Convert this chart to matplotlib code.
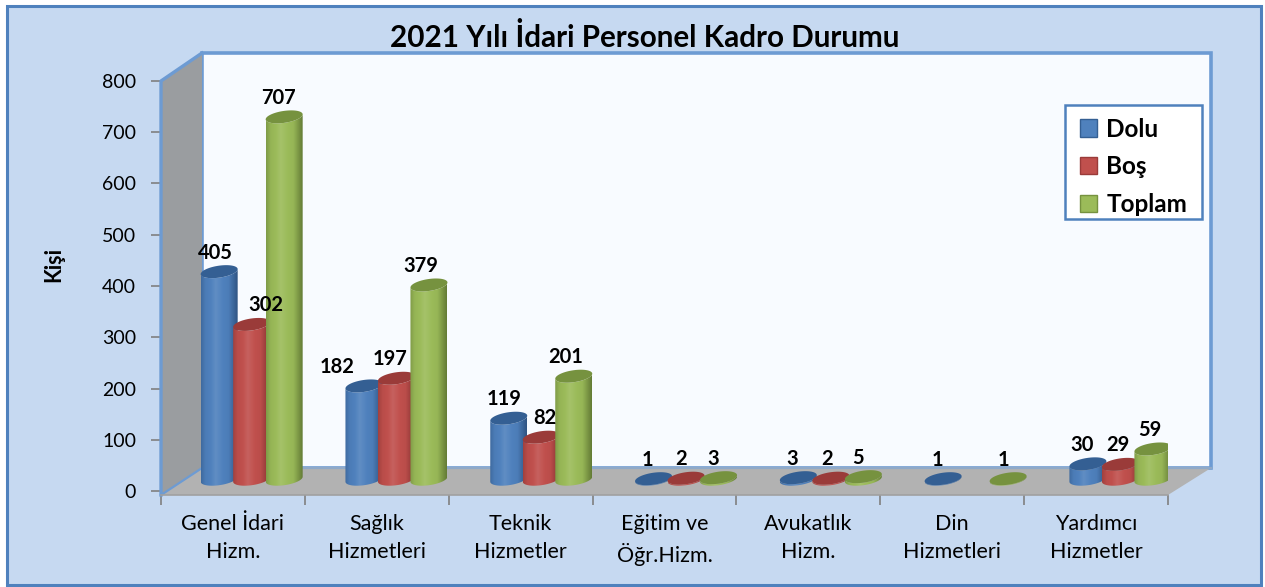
import matplotlib
matplotlib.use("Agg")
import matplotlib.pyplot as plt
import numpy as np
from matplotlib.patches import Patch, PathPatch, Polygon, Rectangle
from matplotlib.path import Path

plt.rcParams["font.family"] = ["Lato", "DejaVu Sans"]

categories = ["Genel İdari\nHizm.", "Sağlık\nHizmetleri", "Teknik\nHizmetler",
              "Eğitim ve\nÖğr.Hizm.", "Avukatlık\nHizm.", "Din\nHizmetleri",
              "Yardımcı\nHizmetler"]
dolu = [405, 182, 119, 1, 3, 1, 30]
bos = [302, 197, 82, 2, 2, 0, 29]
toplam = [707, 379, 201, 3, 5, 1, 59]
series_names = ["Dolu", "Boş", "Toplam"]
y_ticks = [0, 100, 200, 300, 400, 500, 600, 700, 800]

W, H = 1265, 587
LEFT, RIGHT = 161, 1168
BOTTOM, TOP = 495, 81
PX_X = (RIGHT - LEFT) / 7
PX_Y = (491 - TOP) / 800

colors = ["#4F81BD", "#C0504D", "#9BBB59"]
dark = ["#345F93", "#9A3B39", "#76923F"]
edge = ["#2C4F7C", "#7E2F2D", "#5E7532"]
BLUE = "#4F81BD"
LINE = "#6D9BD3"


def px(v):
    return v / PX_X


def py(v):
    return v / PX_Y


def shaded(base, shadow):
    # horizontal shading of a cylinder, dark to the right
    b = np.array(matplotlib.colors.to_rgb(base))
    s = np.array(matplotlib.colors.to_rgb(shadow))
    t = np.linspace(0, 1, 60)
    k = np.interp(t, [0, 0.12, 0.4, 0.75, 1], [0.45, 0.1, -0.1, 0.08, 0.9])
    rows = [b + (s - b) * v if v > 0 else b + (1 - b) * (-v) for v in k]
    return np.clip(np.array([rows]), 0, 1)


def cylinder(ax, cx, value, i, z):
    a, b, tilt = px(18.5), py(6), py(2.5)
    base = 23
    top = base + value
    t = np.linspace(0, 2 * np.pi, 80)
    ex = cx + a * np.cos(t)
    ey = b * np.sin(t) + tilt * np.cos(t)

    low = np.linspace(np.pi, 2 * np.pi, 40)
    side = np.concatenate([
        np.c_[cx + a * np.cos(low), base + b * np.sin(low) + tilt * np.cos(low)],
        np.c_[cx + a * np.cos(low[::-1]), top + b * np.sin(low[::-1]) + tilt * np.cos(low[::-1])],
    ])
    path = Path(np.r_[side, side[:1]], closed=True)
    patch = PathPatch(path, fc="none", ec="none", zorder=z, transform=ax.transData)
    ax.add_patch(patch)
    im = ax.imshow(shaded(colors[i], edge[i]), extent=(cx - a, cx + a, base - py(9), top + py(9)),
                   aspect="auto", zorder=z, interpolation="bilinear")
    im.set_clip_path(patch)
    ax.fill(ex, top + ey, fc=dark[i], ec="none", zorder=z + 0.1)


series = [dolu, bos, toplam]
label_shift = [
    [-4, -27, -5, -6, -6, -6, -6],
    [14, -6, 4, -5, -4, 0, -3],
    [-6, -8, -8, -5, -5, -5, -3],
]

fig = plt.figure(figsize=(W / 100, H / 100), dpi=100, facecolor="white")
fig.add_artist(Rectangle((7 / W, 1 - 585 / H), (1261 - 7) / W, (585 - 6) / H, transform=fig.transFigure,
                         fc="#C6D9F1", ec=BLUE, lw=2.2, zorder=-5))

ax = fig.add_axes([LEFT / W, 1 - BOTTOM / H, (RIGHT - LEFT) / W, (BOTTOM - TOP) / H])
ax.patch.set_alpha(0)
ax.set_xlim(0, 7)
ax.set_ylim(-py(4), 800)
for s in ax.spines.values():
    s.set_visible(False)

depth_x, depth_y = px(41), py(27)
y0 = -py(4)
wall_top = 800 + depth_y + py(1)
# back wall, left wall, floor
ax.add_patch(Rectangle((depth_x, y0 + depth_y), 7 + px(2), wall_top - y0 - depth_y, fc="#F8FBFF", ec=LINE, lw=2.6,
                       clip_on=False, zorder=1))
ax.add_patch(Polygon([(0, 800), (depth_x, wall_top), (depth_x, y0 + depth_y), (0, y0)], fc="#9A9DA0", ec="none",
                     clip_on=False, zorder=2))
ax.plot([0, 0, depth_x], [y0, 800, wall_top], c=LINE, lw=2.4, clip_on=False, zorder=2.5)
ax.add_patch(Polygon([(0, y0), (depth_x, y0 + depth_y), (7 + depth_x + px(2), y0 + depth_y), (7, y0)], fc="#B2B2B2",
                     ec="none", clip_on=False, zorder=3))
ax.plot([0, depth_x], [y0, y0 + depth_y], c=LINE, lw=1.6, clip_on=False, zorder=3.1)
ax.plot([depth_x, 7 + depth_x + px(2)], [y0 + depth_y] * 2, c="#8FA9C8", lw=1.6, clip_on=False, zorder=3.1)
ax.plot([0, 7], [y0, y0], c="#A0A0A0", lw=1.2, clip_on=False, zorder=3.1)

for g in range(len(categories)):
    center = (g + 0.5) * 1.0065 + 0.127
    for i, values in enumerate(series):
        v = values[g]
        x = center + (i - 1) * px(32.5)
        if v == 0:
            continue
        cylinder(ax, x, v, i, 4 + g + i * 0.2)
        ax.annotate(str(v), (x, 23 + v), xytext=(label_shift[i][g] * 0.72, 19 * 0.72),
                    textcoords="offset points", ha="center", va="center", fontsize=14.5,
                    fontweight="bold", color="black", zorder=20, annotation_clip=False)

ax.set_xlim(0, 7)
ax.set_ylim(-py(4), 800)
ax.set_yticks(y_ticks)
ax.set_xticks(range(8))
ax.set_xticklabels([])
ax.set_xticks(np.arange(7) + 0.5, categories, minor=True)
ax.tick_params(axis="y", length=7, width=1.2, color="#808080", labelsize=14, pad=11, labelcolor="black")
ax.tick_params(axis="x", which="major", length=7, width=1.2, color="#808080")
ax.tick_params(axis="x", which="minor", length=0, labelsize=15.5, pad=14, labelcolor="black")
for lab in ax.get_xticklabels(minor=True):
    lab.set_linespacing(1.45)

# legend frame drawn apart so its height can follow the reference
ax.add_patch(Rectangle((1065 / W, 1 - 219 / H), 137 / W, 114 / H, transform=fig.transFigure, fc="white", ec=BLUE,
                       lw=1.8, clip_on=False, zorder=29))
handles = [Patch(fc=c, ec=e, lw=1) for c, e in zip(colors, dark)]
ax.legend(handles, series_names, loc="upper left", bbox_to_anchor=(1063 / W, 1 - 101 / H),
          bbox_transform=fig.transFigure, borderaxespad=0, frameon=False, handlelength=0.72, handleheight=0.72,
          handletextpad=0.38, labelspacing=0.6, borderpad=0.68,
          prop={"weight": "bold", "size": 17.5})
ax.get_legend().set_zorder(30)

fig.text(645 / W, 1 - 37.5 / H, "2021 Yılı İdari Personel Kadro Durumu", ha="center", va="center",
         fontsize=21.3, fontweight="bold", color="black")
fig.text(54 / W, 1 - 265 / H, "Kişi", rotation=90, ha="center", va="center", fontsize=15.5,
         fontweight="bold", color="black")

fig.savefig("out.png", dpi=100)
